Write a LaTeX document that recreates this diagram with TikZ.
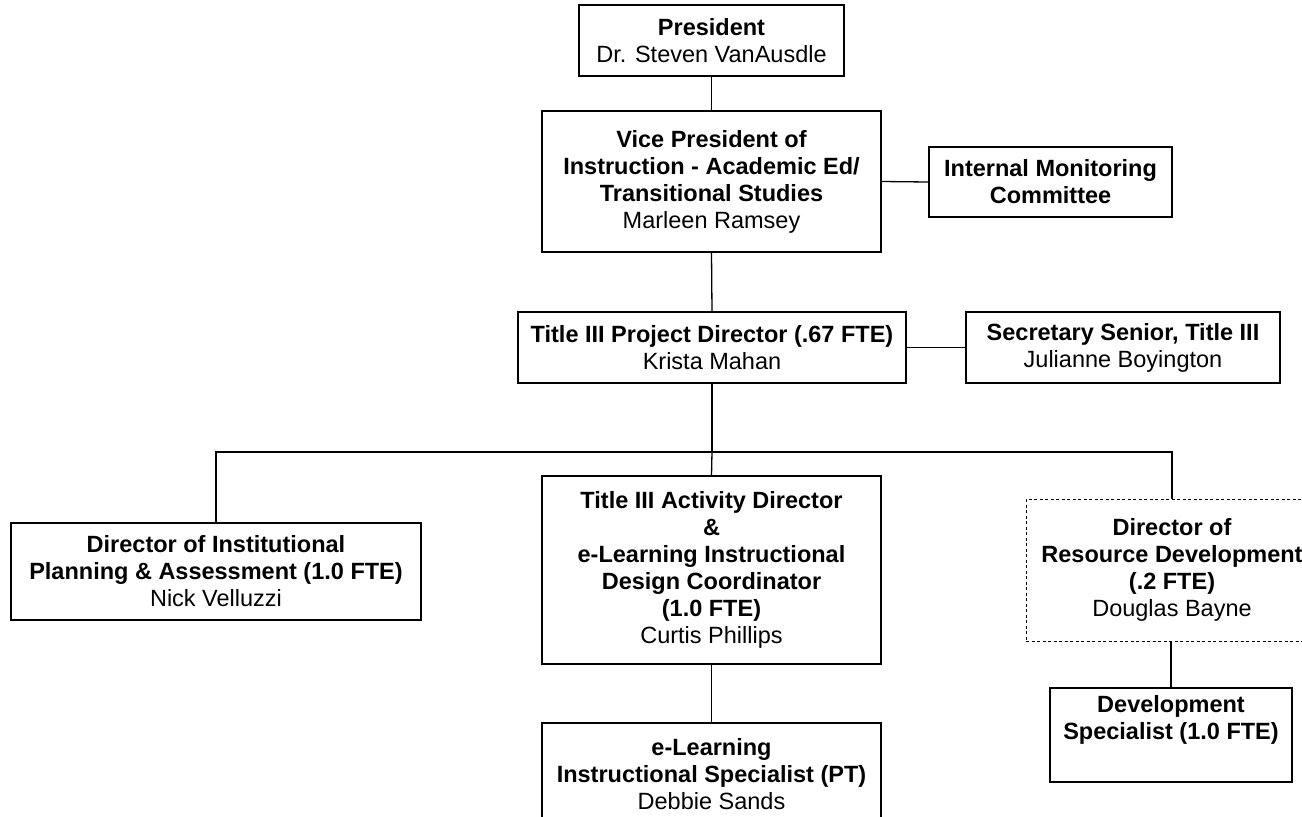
\documentclass[tikz,border=0pt]{standalone}
\usepackage{fontspec}
\setmainfont{Liberation Sans}
\newcommand{\chartfont}{\fontsize{23.5}{27}\selectfont}
\begin{document}
\begin{tikzpicture}[x=1pt,y=-1pt,
  box/.style={draw, line width=1.3pt, inner sep=0pt, align=center, font=\chartfont},
  dotbox/.style={box, line width=1pt, dash pattern=on 3pt off 2.5pt},
  conn/.style={line width=1.3pt}]
\useasboundingbox (0,0) rectangle (1302,817);
\fill[white] (0,0) rectangle (1302,817);
\node[box, minimum width=265pt, minimum height=71pt] (pres) at (711.5,40.5)
  {\textbf{President}\\Dr. Steven VanAusdle};
\node[box, minimum width=339pt, minimum height=141pt] (vp) at (711.5,181.5)
  {\textbf{Vice President of}\\\textbf{Instruction - Academic Ed/}\\\textbf{Transitional Studies}\\Marleen Ramsey};
\node[box, minimum width=243pt, minimum height=70pt] (imc) at (1050.5,182)
  {\textbf{Internal Monitoring}\\\textbf{Committee}};
\node[box, minimum width=388pt, minimum height=71pt] (pd) at (712,347.5)
  {\textbf{Title III Project Director (.67 FTE)}\\Krista Mahan};
\node[box, minimum width=314pt, minimum height=71pt] (sec) at (1123,347.5)
  {\textbf{Secretary Senior, Title III}\\Julianne Boyington};
\node[box, minimum width=410pt, minimum height=97pt] (ipa) at (216,571.5)
  {\textbf{Director of Institutional}\\\textbf{Planning \& Assessment (1.0 FTE)}\\Nick Velluzzi};
\node[box, minimum width=339pt, minimum height=188pt] (mid) at (711.5,570)
  {\textbf{Title III Activity Director}\\\textbf{\&}\\\textbf{e-Learning Instructional}\\\textbf{Design Coordinator}\\\textbf{(1.0 FTE)}\\Curtis Phillips};
\node[dotbox, minimum width=292pt, minimum height=142pt] (rd) at (1172,570)
  {\textbf{Director of}\\\textbf{Resource Development}\\\textbf{(.2 FTE)}\\Douglas Bayne};
\node[box, minimum width=242pt, minimum height=94pt] (dev) at (1171,735)
  {\textbf{Development}\\\textbf{Specialist (1.0 FTE)}\\\strut};
\node[box, minimum width=339pt, minimum height=102pt] (bot) at (711.5,774)
  {\textbf{e-Learning}\\\textbf{Instructional Specialist (PT)}\\Debbie Sands};
\coordinate (busL) at (216,452);
\coordinate (busR) at (1172,452);
\draw[conn] (pres.south) -- (vp.north);
\draw[conn] (vp.east) -- (imc.west);
\draw[conn] (vp.south) -- (pd.north);
\draw[conn] (pd.east) -- (sec.west);
\draw[conn] (pd.south) -- (pd.south |- busL);
\draw[conn] (ipa.north) -- (busL) -- (busR) -- (rd.north);
\draw[conn] (pd.south |- busL) -- (mid.north);
\draw[conn] (mid.south) -- (bot.north);
\draw[conn] (rd.south -| dev.north) -- (dev.north);
\end{tikzpicture}
\end{document}
